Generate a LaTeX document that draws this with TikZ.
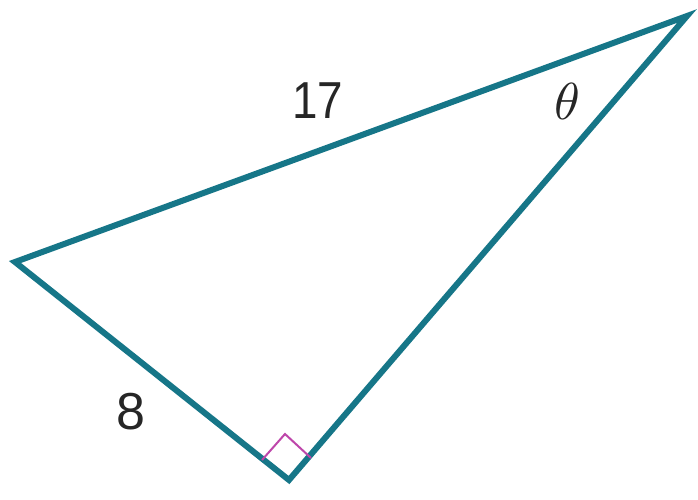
\documentclass[tikz,border=0pt]{standalone}
\usepackage{fontspec}
\setsansfont{Liberation Sans}
\definecolor{teal1}{RGB}{22,118,136}
\definecolor{mag}{RGB}{190,70,170}
\begin{document}
\begin{tikzpicture}[x=1pt,y=-1pt,
  side/.style={draw=teal1,line width=6pt,line join=miter},
  lbl/.style={font=\sffamily\fontsize{52}{52}\selectfont,text=black!85,inner sep=0pt},
  mk/.style={draw=mag,line width=2pt}]
\useasboundingbox[fill=white] (0,0) rectangle (698,500);
\coordinate (T) at (687,16);
\coordinate (L) at (15,262);
\coordinate (B) at (289,480);
\draw[side] (T) -- (L) -- (B) -- cycle;
\coordinate (m1) at (262,460);
\coordinate (m2) at (285,434);
\coordinate (m3) at (311,458);
\draw[mk] (m1) -- (m2) -- (m3);
\node[lbl,xscale=0.88] (s17) at (318,101) {17};
\node[lbl] (s8) at (131,412) {8};
\node[inner sep=0pt,text=black!85,scale=5.2] (th) at (567,101) {$\theta$};
\end{tikzpicture}
\end{document}
